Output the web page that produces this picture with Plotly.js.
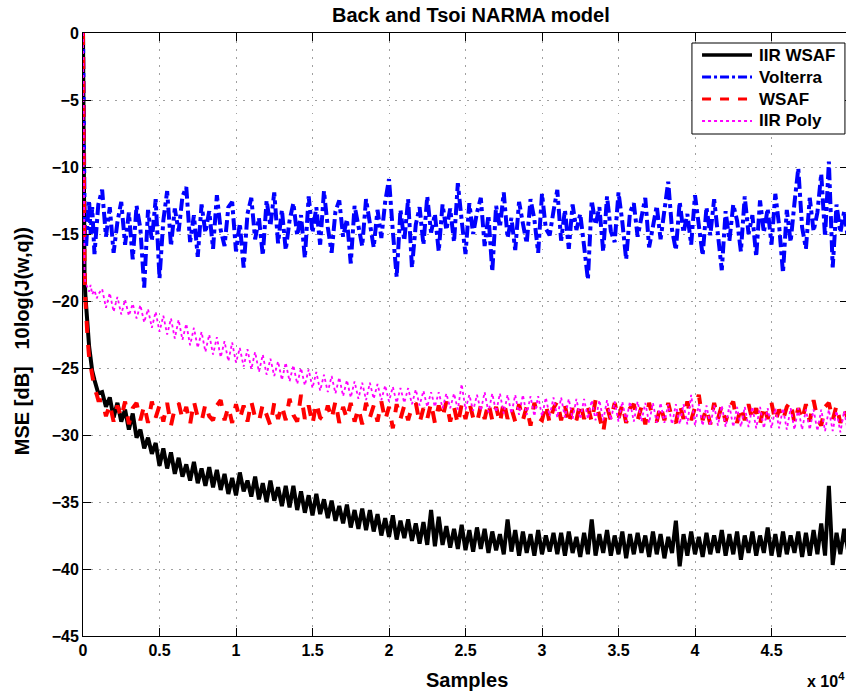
<!DOCTYPE html>
<html>
<head>
<meta charset="utf-8">
<script src="https://cdn.plot.ly/plotly-3.0.1.min.js"></script>
<style>
  html, body { margin: 0; padding: 0; overflow: hidden; background: #fff; }
  #chart { width: 848px; height: 692px; }
</style>
</head>
<body>
<div id="chart"></div>
<script>
// ---------------- data ----------------
const seriesNames = ['IIR WSAF', 'Volterra', 'WSAF', 'IIR Poly'];
// Sample positions of the start-up transient
const transientSamples = [0, 30, 60, 100, 150, 200, 300, 400, 500, 600, 750, 900, 1000];
// After the transient the curves are read every 250 samples from 1250 to 50000
const steadyStart = 1250;
const steadyStep = 250;

// IIR WSAF (black)
const iirWsafTransient = [0, -9, -14.5, -18, -19.5, -20.5, -22.3, -23.4, -24.3, -25.2, -25.9, -26.6, -26.9];
const iirWsafSteady = [
  -26.8, -27.9, -27.2, -28.7, -27.6, -29.0, -28.1, -29.6, -28.4, -30.2,
  -29.6, -31.0, -30.2, -31.4, -30.6, -32.3, -31.0, -32.5, -31.3, -32.9,
  -31.7, -33.1, -32.2, -33.4, -32.0, -33.6, -32.5, -33.8, -32.4, -33.9,
  -32.6, -34.1, -32.9, -34.4, -33.2, -34.5, -32.8, -34.2, -33.4, -34.6,
  -33.1, -34.8, -33.6, -35.0, -33.4, -34.9, -33.9, -35.3, -33.8, -35.4,
  -33.8, -35.6, -34.2, -35.8, -34.5, -36.0, -34.4, -35.9, -34.8, -36.2,
  -34.9, -36.4, -35.3, -36.6, -35.2, -36.9, -35.6, -37.0, -35.5, -37.1,
  -35.6, -37.2, -35.9, -37.5, -36.2, -37.6, -36.0, -37.8, -36.4, -37.7,
  -36.3, -37.9, -36.6, -38.1, -36.5, -38.2, -35.6, -38.3, -36.1, -38.2,
  -36.8, -38.4, -37.0, -38.5, -36.7, -38.6, -37.1, -38.7, -36.9, -38.5,
  -37.0, -38.8, -37.2, -38.6, -37.4, -38.9, -36.3, -38.7, -37.1, -39.0,
  -37.2, -38.8, -37.4, -39.0, -37.1, -38.9, -37.5, -38.7, -37.3, -38.9,
  -37.3, -39.0, -37.2, -38.8, -37.6, -39.1, -37.3, -38.9, -36.3, -39.0,
  -37.4, -38.8, -37.1, -39.0, -37.5, -38.9, -37.2, -39.2, -37.4, -38.9,
  -37.3, -38.8, -37.5, -39.1, -37.2, -38.9, -37.4, -39.2, -37.6, -38.8,
  -36.4, -39.8, -37.4, -39.0, -37.2, -38.9, -37.6, -39.1, -37.3, -38.9,
  -37.5, -38.8, -37.1, -39.0, -37.4, -38.9, -37.2, -39.3, -37.5, -38.8,
  -37.2, -39.0, -37.5, -38.8, -36.9, -39.0, -37.4, -39.1, -37.2, -38.9,
  -37.5, -38.8, -37.2, -39.1, -37.3, -39.0, -37.1, -38.9, -36.6, -39.0,
  -33.8, -39.7, -37.3, -38.9, -37.0, -38.6
];

// Volterra (blue)
const volterraTransient = [0, -6, -10, -13, -15.5, -16, -14, -12.5, -15, -13, -16.5, -14, -12.8];
const volterraSteady = [
  -11.7, -15.2, -13.0, -16.4, -14.1, -12.6, -15.8, -13.4, -16.9, -12.9,
  -14.6, -19.0, -13.2, -15.5, -12.4, -18.3, -14.0, -11.8, -15.9, -13.1,
  -14.8, -12.2, -11.5, -15.6, -13.6, -16.7, -12.8, -14.9, -13.3, -16.1,
  -12.1, -14.7, -15.9, -13.0, -12.6, -16.3, -14.2, -17.5, -13.5, -12.3,
  -15.4, -13.8, -16.6, -12.5, -14.4, -11.9, -15.7, -13.2, -16.2, -14.0,
  -12.7, -15.1, -13.6, -16.8, -12.2, -14.9, -13.0, -15.8, -11.8, -14.5,
  -16.4, -13.3, -12.5, -15.2, -13.9, -17.2, -12.9, -14.6, -15.9, -12.4,
  -14.1, -16.0, -13.2, -15.3, -12.6, -10.9, -14.8, -18.2, -13.2, -15.5,
  -12.4, -17.5, -14.3, -13.0, -15.8, -12.2, -14.9, -13.5, -16.3, -12.8,
  -14.7, -13.1, -15.6, -11.2, -14.0, -16.5, -12.7, -15.0, -13.4, -12.3,
  -15.9, -13.6, -17.8, -12.9, -14.5, -11.9, -15.3, -13.8, -16.2, -12.6,
  -14.2, -15.7, -12.4, -13.9, -16.4, -12.0, -14.6, -15.1, -13.3, -11.7,
  -15.5, -13.2, -16.1, -12.8, -14.7, -13.5, -15.9, -18.4, -12.5, -14.3,
  -13.0, -16.3, -12.2, -14.8, -15.6, -11.9, -14.1, -16.9, -13.4, -12.7,
  -15.2, -13.8, -12.3, -16.0, -14.4, -12.9, -15.4, -13.1, -11.1, -14.7,
  -16.2, -12.6, -14.9, -13.5, -15.8, -12.1, -14.3, -16.6, -13.0, -15.1,
  -12.4, -14.8, -17.7, -13.3, -15.5, -12.8, -14.0, -16.3, -12.2, -15.0,
  -13.6, -16.7, -12.5, -14.9, -13.1, -15.8, -12.0, -14.4, -17.9, -13.2,
  -15.6, -12.7, -10.1, -14.5, -16.1, -12.3, -14.8, -13.4, -10.5, -15.2,
  -9.6, -17.5, -12.8, -14.9, -13.3, -15.4
];

// WSAF (red)
const wsafTransient = [0, -8, -13, -17.5, -19.8, -21.2, -22.8, -24.2, -25.0, -25.8, -26.5, -27.0, -27.4];
const wsafSteady = [
  -27.4, -28.6, -27.7, -29.0, -27.8, -28.7, -27.5, -29.2, -28.0, -27.6,
  -28.9, -27.8, -29.1, -27.5, -28.7, -27.8, -29.0, -27.6, -29.3, -28.0,
  -27.6, -28.8, -27.9, -29.2, -27.5, -28.7, -29.0, -27.7, -28.6, -28.9,
  -27.8, -27.4, -28.9, -27.9, -29.1, -27.7, -28.8, -27.8, -29.0, -27.5,
  -28.7, -29.0, -27.7, -28.6, -29.3, -27.6, -28.8, -27.8, -28.9, -27.3,
  -28.5, -29.0, -27.0, -28.8, -27.8, -29.2, -27.6, -28.7, -28.9, -27.8,
  -28.8, -27.5, -29.1, -27.9, -28.8, -27.6, -29.0, -28.0, -29.2, -27.6,
  -28.7, -27.8, -29.0, -27.5, -28.9, -27.9, -29.5, -27.7, -28.8, -27.8,
  -28.9, -27.9, -27.6, -29.1, -28.0, -28.8, -27.6, -29.1, -27.8, -28.7,
  -27.5, -29.0, -27.9, -29.2, -27.7, -28.8, -27.6, -28.7, -29.1, -27.8,
  -28.8, -27.6, -28.9, -27.9, -29.1, -27.5, -28.8, -28.0, -29.0, -27.7,
  -28.9, -27.9, -29.3, -27.6, -28.7, -28.9, -27.7, -29.1, -28.0, -27.5,
  -28.9, -27.8, -29.2, -28.0, -28.9, -27.6, -28.8, -27.9, -29.0, -27.4,
  -28.7, -29.8, -27.9, -28.9, -27.6, -28.8, -27.7, -29.1, -28.0, -27.7,
  -28.9, -27.9, -29.2, -27.6, -28.7, -29.0, -27.8, -28.9, -27.6, -28.8,
  -29.1, -27.7, -28.8, -27.5, -28.9, -27.9, -27.0, -28.9, -28.0, -29.2,
  -27.6, -28.8, -27.8, -29.0, -28.0, -27.5, -29.1, -27.9, -28.9, -27.7,
  -28.9, -28.0, -29.2, -27.8, -28.8, -27.6, -29.0, -28.1, -28.9, -27.9,
  -27.5, -29.1, -28.0, -28.9, -27.7, -29.0, -27.4, -28.8, -29.3, -27.9,
  -27.6, -28.9, -27.8, -29.1, -28.1, -28.8
];

// IIR Poly (magenta)
const iirPolyTransient = [0, -10, -15, -18, -18.6, -18.8, -19.0, -19.3, -18.8, -19.5, -19.2, -19.8, -19.5];
const iirPolySteady = [
  -19.1, -20.5, -19.4, -20.8, -19.7, -21.0, -19.9, -21.1, -20.2, -21.3,
  -20.3, -21.6, -20.6, -22.0, -20.8, -22.3, -21.1, -22.5, -21.3, -22.8,
  -21.4, -22.9, -21.7, -23.3, -22.0, -23.5, -22.3, -23.8, -22.5, -24.0,
  -22.7, -24.2, -23.0, -24.5, -23.1, -24.6, -23.5, -24.9, -23.6, -25.1,
  -23.8, -25.3, -24.0, -25.5, -24.3, -25.6, -24.5, -25.9, -24.6, -26.0,
  -24.8, -26.2, -25.0, -26.3, -25.1, -26.5, -25.3, -26.7, -25.5, -26.8,
  -25.6, -26.9, -25.7, -27.1, -25.9, -27.2, -26.0, -27.3, -26.1, -27.4,
  -26.1, -27.3, -26.2, -27.4, -26.3, -27.5, -26.4, -27.6, -26.5, -27.6,
  -26.5, -27.7, -26.6, -27.8, -26.7, -27.9, -26.8, -27.9, -26.8, -28.0,
  -26.9, -28.0, -26.9, -28.1, -26.2, -28.1, -27.0, -28.2, -27.0, -28.2,
  -26.8, -28.3, -26.9, -28.3, -26.9, -28.4, -27.0, -28.4, -27.0, -28.5,
  -27.0, -28.5, -27.1, -28.6, -27.1, -28.6, -27.2, -28.6, -27.2, -28.7,
  -27.2, -28.7, -27.3, -28.8, -27.3, -28.8, -27.3, -28.8, -27.4, -28.9,
  -27.4, -28.9, -27.4, -28.9, -27.5, -29.0, -27.5, -29.0, -27.5, -29.0,
  -27.5, -29.0, -27.6, -29.1, -27.6, -29.1, -27.6, -29.1, -27.7, -29.2,
  -27.7, -29.2, -27.7, -29.2, -27.0, -29.3, -27.7, -29.3, -27.8, -29.3,
  -27.8, -29.3, -27.8, -29.4, -27.8, -29.4, -27.9, -29.4, -27.9, -29.4,
  -27.9, -29.5, -27.9, -29.5, -28.0, -29.5, -28.0, -29.5, -28.0, -29.6,
  -28.0, -29.6, -28.0, -29.6, -28.1, -29.6, -28.1, -29.7, -28.1, -29.7,
  -28.1, -29.7, -28.2, -29.8, -28.2, -29.8
];

// Axis ticks
const xTickVals = [0, 5000, 10000, 15000, 20000, 25000, 30000, 35000, 40000, 45000, 50000];
const xTickText = ['0', '0.5', '1', '1.5', '2', '2.5', '3', '3.5', '4', '4.5', '5'];
const yTickVals = [0, -5, -10, -15, -20, -25, -30, -35, -40, -45];

// ---------------- build the chart ----------------
function samplesFor(steadyValues) {
  const xs = transientSamples.slice();
  for (let i = 0; i < steadyValues.length; i++) xs.push(steadyStart + i * steadyStep);
  return xs;
}

const FONT = 'Liberation Sans, Arial, Helvetica, sans-serif';
const lineStyles = [
  { color: '#000000', width: 4, dash: 'solid' },
  { color: '#0000ff', width: 4, dash: 'dashdot' },
  { color: '#ff0000', width: 4, dash: 'dash' },
  { color: '#ff00ff', width: 1.8, dash: 'dot' }
];
const seriesY = [
  iirWsafTransient.concat(iirWsafSteady),
  volterraTransient.concat(volterraSteady),
  wsafTransient.concat(wsafSteady),
  iirPolyTransient.concat(iirPolySteady)
];
const seriesX = [
  samplesFor(iirWsafSteady), samplesFor(volterraSteady), samplesFor(wsafSteady), samplesFor(iirPolySteady)
];

const traces = seriesNames.map((name, i) => ({
  type: 'scatter', mode: 'lines', name: name, x: seriesX[i], y: seriesY[i],
  line: lineStyles[i], hoverinfo: 'skip', showlegend: false
}));

// Legend box drawn in paper coordinates (MATLAB-style legend)
const legendBox = { x0: 0.796, x1: 0.996, y0: 0.8325, y1: 0.9834 };
const legendRows = [0.9635, 0.9270, 0.8905, 0.8541];
const legendLine = { x0: 0.8092, x1: 0.8745 };
const legendTextX = 0.8810;
const legendSwatchWidths = [3.5, 3, 3, 1.8];

const shapes = [
  { type: 'rect', xref: 'paper', yref: 'paper', x0: legendBox.x0, x1: legendBox.x1, y0: legendBox.y0, y1: legendBox.y1,
    fillcolor: '#ffffff', line: { color: '#000', width: 1 }, layer: 'above' }
].concat(seriesNames.map((n, i) => ({
  type: 'line', xref: 'paper', yref: 'paper', x0: legendLine.x0, x1: legendLine.x1, y0: legendRows[i], y1: legendRows[i],
  line: { color: lineStyles[i].color, width: legendSwatchWidths[i], dash: lineStyles[i].dash }, layer: 'above'
})));

const legendTexts = seriesNames.map((n, i) => ({
  text: n, xref: 'paper', yref: 'paper', x: legendTextX, y: legendRows[i],
  xanchor: 'left', yanchor: 'middle', showarrow: false,
  font: { family: FONT, size: 17, color: '#000', weight: 'bold' }
}));

const axisCommon = {
  showline: true, linecolor: '#000', linewidth: 1, mirror: 'ticks',
  ticks: 'inside', ticklen: 8, tickwidth: 1, tickcolor: '#000',
  showgrid: true, gridcolor: '#a0a0a0', griddash: '1.5px,6.5px', gridwidth: 1,
  zeroline: false,
  tickfont: { family: FONT, size: 16, color: '#000', weight: 'bold' }
};

const layout = {
  width: 848, height: 692,
  margin: { l: 83, r: 0, t: 33, b: 56, pad: 0 },
  paper_bgcolor: '#fff', plot_bgcolor: '#fff',
  showlegend: false,
  title: { text: 'Back and Tsoi NARMA model', font: { family: FONT, size: 20, color: '#000', weight: 'bold' },
           x: 0.507, xref: 'paper', xanchor: 'center', y: 0.978, yref: 'container', yanchor: 'middle' },
  xaxis: Object.assign({}, axisCommon, {
    range: [0, 50000], tickmode: 'array', tickvals: xTickVals, ticktext: xTickText
  }),
  yaxis: Object.assign({}, axisCommon, {
    range: [-45, 0], tickmode: 'array', tickvals: yTickVals
  }),
  shapes: shapes,
  annotations: [
    { text: 'Samples', xref: 'paper', yref: 'paper', x: 0.502, y: 0, yshift: -44,
      xanchor: 'center', yanchor: 'middle', showarrow: false,
      font: { family: FONT, size: 20, color: '#000', weight: 'bold' } },
    { text: 'x 10<sup>4</sup>', xref: 'paper', yref: 'paper', x: 0.944, y: 0, yshift: -44,
      xanchor: 'left', yanchor: 'middle', showarrow: false,
      font: { family: FONT, size: 16, color: '#000', weight: 'bold' } },
    { text: 'MSE [dB]   10log(J(w,q))', xref: 'paper', yref: 'paper', x: 0, xshift: -61, y: 0.489,
      xanchor: 'center', yanchor: 'middle', textangle: -90, showarrow: false,
      font: { family: FONT, size: 20, color: '#000', weight: 'bold' } }
  ].concat(legendTexts)
};

Plotly.newPlot('chart', traces, layout, { displayModeBar: false, staticPlot: true, responsive: false });
</script>
</body>
</html>
